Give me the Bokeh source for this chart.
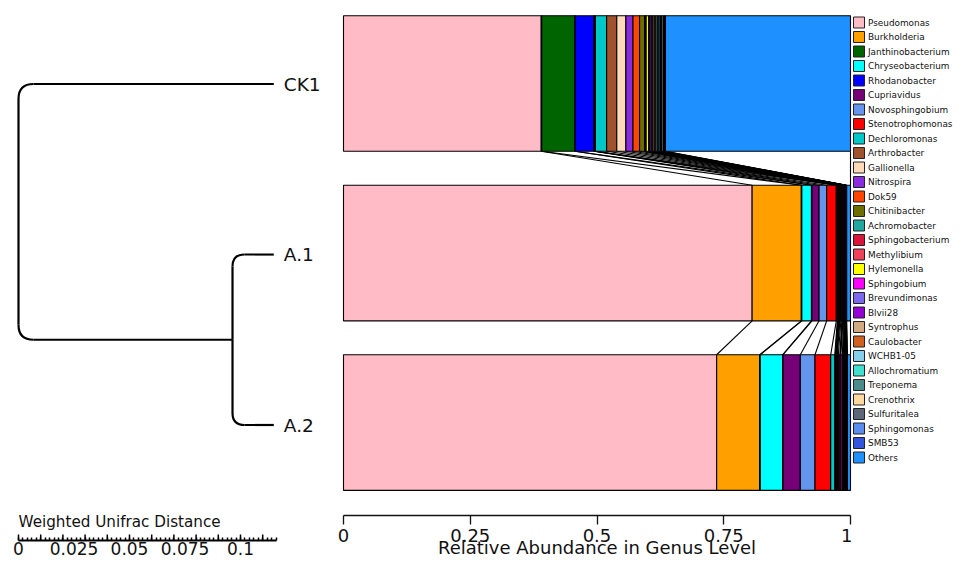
import numpy as np
from bokeh.plotting import figure
from bokeh.models import Range1d, LinearAxis, FixedTicker, ColumnDataSource, PrintfTickFormatter
from bokeh.layouts import row
from bokeh.embed import file_html
from bokeh.resources import INLINE
from bokeh.core.properties import value

# ---------------- data ----------------
GENERA = ["Pseudomonas", "Burkholderia", "Janthinobacterium", "Chryseobacterium",
          "Rhodanobacter", "Cupriavidus", "Novosphingobium", "Stenotrophomonas",
          "Dechloromonas", "Arthrobacter", "Gallionella", "Nitrospira", "Dok59",
          "Chitinibacter", "Achromobacter", "Sphingobacterium", "Methylibium",
          "Hylemonella", "Sphingobium", "Brevundimonas", "Blvii28", "Syntrophus",
          "Caulobacter", "WCHB1-05", "Allochromatium", "Treponema", "Crenothrix",
          "Sulfuritalea", "Sphingomonas", "SMB53", "Others"]

COLORS = ["#FFBBC6", "#FFA000", "#006400", "#00FFFF", "#0000FF", "#760076",
          "#6495ED", "#FF0000", "#00C8C8", "#A0522D", "#FFDAB9", "#8A2BE2",
          "#FF4500", "#6E6E00", "#20A8A0", "#DC143C", "#F0405A", "#FFFF00",
          "#FF00FF", "#7B68EE", "#9400D3", "#D2AA80", "#D2601E", "#87CEEB",
          "#40E0D0", "#4A8C8C", "#FFD8A0", "#5C6878", "#5A8DEE", "#3355DD",
          "#1E90FF"]

SAMPLES = ["CK1", "A.1", "A.2"]

CK1_VALUES = [0.390, 0.001, 0.065, 0.001, 0.037, 0.001, 0.001, 0.001, 0.022, 0.020,
              0.018, 0.014, 0.013, 0.010, 0.001, 0.001, 0.001, 0.005, 0.002, 0.003,
              0.003, 0.003, 0.003, 0.003, 0.003, 0.003, 0.002, 0.004, 0.002, 0.002,
              0.365]
A1_VALUES = [0.806, 0.097, 0.001, 0.019, 0.001, 0.014, 0.015, 0.019, 0.002, 0.001,
             0.001, 0.001, 0.001, 0.001, 0.002, 0.002, 0.001, 0.001, 0.001, 0.001,
             0.001, 0.0005, 0.0005, 0.0005, 0.0005, 0.0005, 0.0005, 0.0005, 0.0005,
             0.0005, 0.0075]
A2_VALUES = [0.736, 0.085, 0.001, 0.044, 0.001, 0.034, 0.029, 0.031, 0.008, 0.001,
             0.001, 0.001, 0.001, 0.001, 0.002, 0.003, 0.001, 0.001, 0.003, 0.002,
             0.002, 0.001, 0.0005, 0.0005, 0.001, 0.0005, 0.0005, 0.001, 0.0005,
             0.0005, 0.006]
SAMPLE_VALUES = [CK1_VALUES, A1_VALUES, A2_VALUES]

# dendrogram (distance from root)
TREE_NODES = ["root", "A", "CK1", "A.1", "A.2"]
TREE_PARENT = [None, "root", "root", "A", "A"]
TREE_DEPTH = [0.0, 0.0964, 0.115, 0.115, 0.115]

X_TICKS = [0, 0.25, 0.5, 0.75, 1]
X_TICK_LABELS = ["0", "0.25", "0.5", "0.75", "1"]
SCALE_TICKS = [0, 0.025, 0.05, 0.075, 0.1]
SCALE_TICK_LABELS = ["0", "0.025", "0.05", "0.075", "0.1"]
SCALE_LENGTH = 0.116
SCALE_MAJOR_STEP = 0.01
SCALE_MINOR_STEP = 0.002

# ---------------- layout / style ----------------
FONT = "DejaVu Sans"
H = 560
PX_Y = 170.5                 # pixels per sample step
Y_TOP = 2 + 83.5 / PX_Y      # value at frame top
BAR_H = 0.8
PX_X_TREE = 2220.0
LEFT_W = 335
ROOT_PX = 18
BAR_BORDER_L = 6
PX_BAR = 507.0
BAR_PAD_PX = 2
BAR_FRAME_W = int(PX_BAR + 2 * BAR_PAD_PX)
BAR_BOTTOM = 42
LEFT_BOTTOM = 20
LEG_W = 953 - LEFT_W - BAR_BORDER_L - BAR_FRAME_W
LEG_STEP = 14.5
LEG_FIRST_PX = 22

n = len(SAMPLES)
sample_y = {s: n - 1 - i for i, s in enumerate(SAMPLES)}

# ---------------- left: dendrogram ----------------
lx0 = -ROOT_PX / PX_X_TREE
left_y_start = Y_TOP - (H - LEFT_BOTTOM) / PX_Y
pl = figure(width=LEFT_W, height=H, output_backend="svg", toolbar_location=None,
            x_range=Range1d(lx0, lx0 + LEFT_W / PX_X_TREE),
            y_range=Range1d(left_y_start, Y_TOP),
            x_axis_location=None, y_axis_location=None,
            min_border_left=0, min_border_right=0, min_border_top=0,
            min_border_bottom=LEFT_BOTTOM, frame_align=False)
pl.outline_line_color = None
pl.grid.visible = False

depth = dict(zip(TREE_NODES, TREE_DEPTH))
parent = dict(zip(TREE_NODES, TREE_PARENT))
children = {nd: [c for c in TREE_NODES if parent[c] == nd] for nd in TREE_NODES}
ypos = {}
def node_y(nd):
    if nd in sample_y:
        ypos[nd] = sample_y[nd]
    else:
        ypos[nd] = float(np.mean([node_y(c) for c in children[nd]]))
    return ypos[nd]
node_y("root")

CORNER_PX = {"root": 15, "A": 12}
vx, vy, hx, hy = [], [], [], []
q = dict(x0=[], y0=[], x1=[], y1=[], cx=[], cy=[])
for nd in TREE_NODES:
    p_ = parent[nd]
    if p_ is None:
        continue
    px, py = depth[p_], ypos[p_]
    cxp, cyp = depth[nd], ypos[nd]
    rx = CORNER_PX[p_] / PX_X_TREE
    ry = CORNER_PX[p_] / PX_Y
    sgn = 1 if cyp > py else -1
    vx.append([px, px]); vy.append([py, cyp - sgn * ry])
    q["x0"].append(px); q["y0"].append(cyp - sgn * ry)
    q["cx"].append(px); q["cy"].append(cyp)
    q["x1"].append(px + rx); q["y1"].append(cyp)
    hx.append([px + rx, cxp]); hy.append([cyp, cyp])

pl.multi_line(vx + hx, vy + hy, line_color="black", line_width=2.2)
pl.quadratic(source=ColumnDataSource(q), x0="x0", y0="y0", x1="x1", y1="y1",
             cx="cx", cy="cy", line_color="black", line_width=2.2)

pl.text(x=[depth[s] for s in SAMPLES], y=[ypos[s] for s in SAMPLES], text=SAMPLES,
        x_offset=10, text_baseline="middle", text_align="left",
        text_font=value(FONT), text_font_size="18.5px", text_color="#111111")

pl.text(x=[0], y=[left_y_start + 19 / PX_Y], text=["Weighted Unifrac Distance"],
        text_baseline="middle", text_align="left",
        text_font=value(FONT), text_font_size="15.2px", text_color="#111111")

# taller scale-bar ticks every SCALE_MAJOR_STEP
tall = np.arange(0, SCALE_LENGTH + 1e-9, SCALE_MAJOR_STEP)
pl.segment(x0=tall, y0=[left_y_start] * len(tall), x1=tall,
           y1=[left_y_start + 6 / PX_Y] * len(tall), line_color="black", line_width=1.5)

scale_axis = LinearAxis(
    ticker=FixedTicker(ticks=SCALE_TICKS,
                       minor_ticks=list(np.arange(0, SCALE_LENGTH + 1e-9, SCALE_MINOR_STEP))),
    major_label_overrides=dict(zip(SCALE_TICKS, SCALE_TICK_LABELS)),
    formatter=PrintfTickFormatter(format="%g"),
    bounds=(0, SCALE_LENGTH), major_tick_in=0, major_tick_out=0,
    major_tick_line_color=None,
    minor_tick_in=3, minor_tick_out=0, minor_tick_line_width=1.5,
    minor_tick_line_color="black", axis_line_width=2, axis_line_color="black",
    major_label_standoff=1, major_label_text_font=FONT,
    major_label_text_font_size="17px", major_label_text_color="#111111")
pl.add_layout(scale_axis, "below")

# ---------------- middle: stacked bars ----------------
bar_y_start = Y_TOP - (H - BAR_BOTTOM) / PX_Y
pad = BAR_PAD_PX / PX_BAR
pb = figure(width=BAR_BORDER_L + BAR_FRAME_W, height=H, output_backend="svg",
            toolbar_location=None,
            x_range=Range1d(-pad, 1 + pad), y_range=Range1d(bar_y_start, Y_TOP),
            x_axis_location=None, y_axis_location=None,
            min_border_left=BAR_BORDER_L, min_border_right=0, min_border_top=0,
            min_border_bottom=BAR_BOTTOM, frame_align=False)
pb.outline_line_color = None
pb.grid.visible = False

rows = dict(y=[], left=[], right=[], color=[], genus=[])
cums = []
for s, vals in zip(SAMPLES, SAMPLE_VALUES):
    cum = np.concatenate([[0.0], np.cumsum(vals)])
    cums.append(cum)
    for k, g in enumerate(GENERA):
        rows["y"].append(sample_y[s]); rows["left"].append(cum[k])
        rows["right"].append(cum[k + 1]); rows["color"].append(COLORS[k])
        rows["genus"].append(g)

seg = dict(x0=[], y0=[], x1=[], y1=[])
for i in range(n - 1):
    cu, cl = cums[i], cums[i + 1]
    yu, yl = sample_y[SAMPLES[i]], sample_y[SAMPLES[i + 1]]
    for k in range(1, len(cu)):
        seg["x0"].append(cu[k]); seg["y0"].append(yu - BAR_H / 2)
        seg["x1"].append(cl[k]); seg["y1"].append(yl + BAR_H / 2)
pb.segment(source=ColumnDataSource(seg), x0="x0", y0="y0", x1="x1", y1="y1",
           line_color="black", line_width=1.1)

pb.hbar(source=ColumnDataSource(rows), y="y", left="left", right="right",
        height=BAR_H, fill_color="color", line_color="black", line_width=1.1)

bar_axis = LinearAxis(
    ticker=FixedTicker(ticks=X_TICKS),
    major_label_overrides=dict(zip(X_TICKS, X_TICK_LABELS)),
    formatter=PrintfTickFormatter(format="%g"),
    bounds=(0, 1), major_tick_in=0, major_tick_out=9, major_label_standoff=4,
    axis_line_width=1.3, major_tick_line_width=1.3,
    axis_line_color="#111111", major_tick_line_color="#111111",
    major_label_text_font=FONT, major_label_text_font_size="18px",
    major_label_text_color="#111111",
    axis_label="Relative Abundance in Genus Level", axis_label_standoff=-8,
    axis_label_text_font=FONT, axis_label_text_font_size="18px",
    axis_label_text_font_style="normal", axis_label_text_color="#111111")
pb.add_layout(bar_axis, "below")

# ---------------- right: legend ----------------
leg_top = -LEG_FIRST_PX / LEG_STEP
pg = figure(width=LEG_W, height=H, output_backend="svg", toolbar_location=None,
            x_range=Range1d(0, LEG_W), y_range=Range1d(leg_top + H / LEG_STEP, leg_top),
            x_axis_location=None, y_axis_location=None,
            min_border_left=0, min_border_right=0, min_border_top=0, min_border_bottom=0,
            frame_align=False)
pg.outline_line_color = None
pg.grid.visible = False
idx = list(range(len(GENERA)))
pg.scatter(x=[6.5] * len(GENERA), y=idx, marker="square", size=11,
           fill_color=COLORS, line_color="#222222", line_width=1)
pg.text(x=[15.5] * len(GENERA), y=idx, text=GENERA, text_baseline="middle",
        text_align="left", text_font=value(FONT), text_font_size="8.9px",
        text_color="#111111")

layout = row(pl, pb, pg)
open("out.html", "w").write(file_html(layout, INLINE))
